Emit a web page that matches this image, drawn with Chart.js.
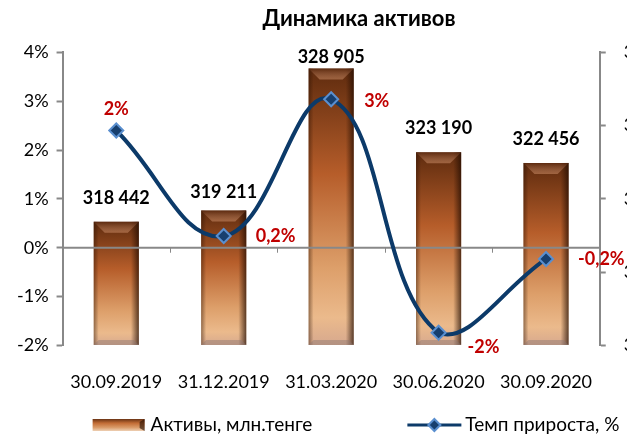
<!DOCTYPE html>
<html>
<head>
<meta charset="utf-8">
<script src="https://cdn.jsdelivr.net/npm/chart.js@4.4.1/dist/chart.umd.min.js"></script>
<style>
    html, body { margin: 0; padding: 0; background: #fff; width: 627px; height: 437px; overflow: hidden; }
    #chartAssets { display: block; }
</style>
</head>
<body>
<canvas id="chartAssets" width="722" height="437"></canvas>
<script>
const categories = ['30.09.2019', '31.12.2019', '31.03.2020', '30.06.2020', '30.09.2020'];
const assets = [318442, 319211, 328905, 323190, 322456];
const assetLabels = ['318 442', '319 211', '328 905', '323 190', '322 456'];
const growth = [2.4, 0.24, 3.04, -1.74, -0.23];
const growthLabels = ['2%', '0,2%', '3%', '-2%', '-0,2%'];
const pctRange = [-2, 4];
const assetRange = [310000, 330000];

// label placement (pixels from the mark)
const assetLabelLift = [24, 18, 11, 24, 24];
const growthLabelPos = [
    { dx: 0, dy: -21, align: 'center' },
    { dx: 32, dy: 0, align: 'left' },
    { dx: 33, dy: 2, align: 'left' },
    { dx: 29, dy: 14, align: 'left' },
    { dx: 32, dy: 0, align: 'left' }
];

const FONT = 'Lato, "Open Sans", sans-serif';
const AXIS_GRAY = '#888888';
const NAVY = '#0c3a69';
const RED = '#c00000';

function spaced(v) {
    return String(v).replace(/\B(?=(\d{3})+(?!\d))/g, ' ');
}

function barFill(context) {
    const chart = context.chart;
    const area = chart.chartArea;
    if (!area || context.dataIndex === undefined) return '#b8642e';
    const top = chart.scales.y2.getPixelForValue(assets[context.dataIndex]);
    const g = chart.ctx.createLinearGradient(0, top, 0, area.bottom);
    g.addColorStop(0, '#5e2b0e');
    g.addColorStop(0.38, '#b65d2a');
    g.addColorStop(0.72, '#dd9f6a');
    g.addColorStop(0.9, '#ebba8c');
    g.addColorStop(1, '#d6a88e');
    return g;
}

const barLook = {
    id: 'barLook',
    afterDatasetDraw(chart, args) {
        if (args.index !== 0) return;
        const ctx = chart.ctx;
        const area = chart.chartArea;
        ctx.save();
        args.meta.data.forEach(bar => {
            const w = bar.width;
            const x0 = bar.x - w / 2, x1 = bar.x + w / 2;
            const y0 = bar.y, y1 = bar.base;
            // right edge
            let g = ctx.createLinearGradient(x1 - 8, 0, x1, 0);
            g.addColorStop(0, 'rgba(40,15,0,0)');
            g.addColorStop(1, 'rgba(30,10,0,0.7)');
            ctx.fillStyle = g;
            ctx.fillRect(x1 - 8, y0, 8, y1 - y0);
            // left edge
            g = ctx.createLinearGradient(x0, 0, x0 + 5, 0);
            g.addColorStop(0, 'rgba(40,15,0,0.45)');
            g.addColorStop(1, 'rgba(40,15,0,0)');
            ctx.fillStyle = g;
            ctx.fillRect(x0, y0, 5, y1 - y0);
            // top bevel
            const b = 11;
            g = ctx.createLinearGradient(0, y0, 0, y0 + b);
            g.addColorStop(0, 'rgba(90,40,15,0.6)');
            g.addColorStop(1, 'rgba(255,190,150,0.35)');
            ctx.fillStyle = g;
            ctx.beginPath();
            ctx.moveTo(x0, y0); ctx.lineTo(x1, y0);
            ctx.lineTo(x1 - b, y0 + b); ctx.lineTo(x0 + b, y0 + b);
            ctx.closePath(); ctx.fill();
            // bottom bevel
            const bb = 5;
            ctx.fillStyle = 'rgba(140,120,115,0.45)';
            ctx.beginPath();
            ctx.moveTo(x0, y1); ctx.lineTo(x1, y1);
            ctx.lineTo(x1 - bb, y1 - bb); ctx.lineTo(x0 + bb, y1 - bb);
            ctx.closePath(); ctx.fill();
        });

        // zero line of the percent axis, over the bars
        const yZero = chart.scales.y.getPixelForValue(0);
        ctx.strokeStyle = AXIS_GRAY;
        ctx.lineWidth = 2;
        ctx.beginPath();
        ctx.moveTo(area.left, yZero);
        ctx.lineTo(area.right, yZero);
        ctx.stroke();
        const xs = chart.scales.x;
        ctx.lineWidth = 1;
        for (let i = 1; i < categories.length; i++) {
            const xb = Math.round((xs.getPixelForValue(i - 1) + xs.getPixelForValue(i)) / 2) + 0.5;
            ctx.beginPath();
            ctx.moveTo(xb, yZero);
            ctx.lineTo(xb, yZero + 5);
            ctx.stroke();
        }
        ctx.restore();
    }
};

const valueLabels = {
    id: 'valueLabels',
    afterDatasetsDraw(chart) {
        const ctx = chart.ctx;
        ctx.save();
        ctx.font = 'bold 18px ' + FONT;
        ctx.textBaseline = 'middle';
        ctx.fillStyle = '#000';
        ctx.textAlign = 'center';
        chart.getDatasetMeta(0).data.forEach((bar, i) => {
            ctx.fillText(assetLabels[i], bar.x, bar.y - assetLabelLift[i]);
        });
        ctx.fillStyle = RED;
        chart.getDatasetMeta(1).data.forEach((pt, i) => {
            const p = growthLabelPos[i];
            ctx.textAlign = p.align;
            ctx.fillText(growthLabels[i], pt.x + p.dx, pt.y + p.dy);
        });
        ctx.restore();
    }
};

function barIcon(ctx, x, y) {
    const g = ctx.createLinearGradient(0, y, 0, y + 12);
    g.addColorStop(0, '#6a3314');
    g.addColorStop(0.35, '#c36d36');
    g.addColorStop(0.7, '#d99a68');
    g.addColorStop(1, '#eed0b4');
    ctx.fillStyle = g;
    ctx.fillRect(x, y, 52, 12);
    ctx.fillStyle = 'rgba(30,10,0,0.6)';
    ctx.beginPath();
    ctx.moveTo(x + 52, y); ctx.lineTo(x + 52, y + 12); ctx.lineTo(x + 47, y + 9); ctx.lineTo(x + 47, y + 3);
    ctx.closePath(); ctx.fill();
}

function lineIcon(ctx, x, y) {
    ctx.strokeStyle = NAVY;
    ctx.lineWidth = 3;
    ctx.beginPath();
    ctx.moveTo(x, y + 6); ctx.lineTo(x + 54, y + 6);
    ctx.stroke();
    const cx = x + 27, cy = y + 6, r = 6;
    ctx.fillStyle = '#173f6e';
    ctx.strokeStyle = '#5a8fcf';
    ctx.lineWidth = 2;
    ctx.beginPath();
    ctx.moveTo(cx, cy - r); ctx.lineTo(cx + r, cy); ctx.lineTo(cx, cy + r); ctx.lineTo(cx - r, cy);
    ctx.closePath(); ctx.fill(); ctx.stroke();
}

const bottomLegend = {
    id: 'bottomLegend',
    afterDraw(chart) {
        const ctx = chart.ctx;
        const sets = chart.data.datasets;
        ctx.save();
        ctx.font = '19px ' + FONT;
        ctx.textBaseline = 'middle';
        ctx.textAlign = 'left';
        const gapIcon = 6, gapItems = 95, iconW = 52;
        const w0 = ctx.measureText(sets[0].label).width;
        const w1 = ctx.measureText(sets[1].label).width;
        const total = iconW + gapIcon + w0 + gapItems + iconW + gapIcon + w1;
        let x = chart.width / 2 - 5 - total / 2;
        const yc = 425;
        barIcon(ctx, x, yc - 6);
        ctx.fillStyle = '#000';
        ctx.fillText(sets[0].label, x + iconW + gapIcon, yc);
        x += iconW + gapIcon + w0 + gapItems;
        lineIcon(ctx, x, yc - 6);
        ctx.fillStyle = '#000';
        ctx.fillText(sets[1].label, x + iconW + gapIcon, yc);
        ctx.restore();
    }
};

const ctx = document.getElementById('chartAssets').getContext('2d');
new Chart(ctx, {
    data: {
        labels: categories,
        datasets: [{
            type: 'bar',
            label: 'Активы, млн.тенге',
            data: assets,
            yAxisID: 'y2',
            base: assetRange[0],
            backgroundColor: barFill,
            borderWidth: 0,
            barPercentage: 0.42,
            categoryPercentage: 1,
            order: 2
        }, {
            type: 'line',
            label: 'Темп прироста, %',
            data: growth,
            yAxisID: 'y',
            borderColor: NAVY,
            borderWidth: 4,
            tension: 0.42,
            pointStyle: 'rectRot',
            pointRadius: 7,
            pointBackgroundColor: '#173f6e',
            pointBorderColor: '#5a8fcf',
            pointBorderWidth: 2,
            order: 1
        }]
    },
    options: {
        responsive: false,
        animation: false,
        layout: {
            padding: { top: 0, left: 9, right: 13, bottom: 18 }
        },
        scales: {
            x: {
                grid: { display: false, drawTicks: false },
                border: { display: false },
                ticks: {
                    color: '#000',
                    font: { family: FONT, size: 18 },
                    padding: 26,
                    maxRotation: 0
                }
            },
            y: {
                position: 'left',
                min: pctRange[0],
                max: pctRange[1],
                ticks: {
                    stepSize: 1,
                    color: '#000',
                    font: { family: FONT, size: 18 },
                    padding: 8,
                    callback: v => v + '%'
                },
                grid: { drawOnChartArea: false, tickLength: 6, tickColor: AXIS_GRAY, tickWidth: 2 },
                border: { color: AXIS_GRAY, width: 2 }
            },
            y2: {
                position: 'right',
                min: assetRange[0],
                max: assetRange[1],
                ticks: {
                    stepSize: 5000,
                    color: '#000',
                    font: { family: FONT, size: 18 },
                    padding: 18,
                    callback: v => spaced(v)
                },
                grid: { drawOnChartArea: false, tickLength: 6, tickColor: AXIS_GRAY, tickWidth: 2 },
                border: { color: AXIS_GRAY, width: 2 }
            }
        },
        plugins: {
            legend: { display: false },
            tooltip: { enabled: false },
            title: {
                display: true,
                text: 'Динамика активов',
                color: '#000',
                font: { family: FONT, size: 22, weight: 'bold' },
                padding: { top: 6, bottom: 20 }
            }
        }
    },
    plugins: [barLook, valueLabels, bottomLegend]
});
</script>
</body>
</html>
